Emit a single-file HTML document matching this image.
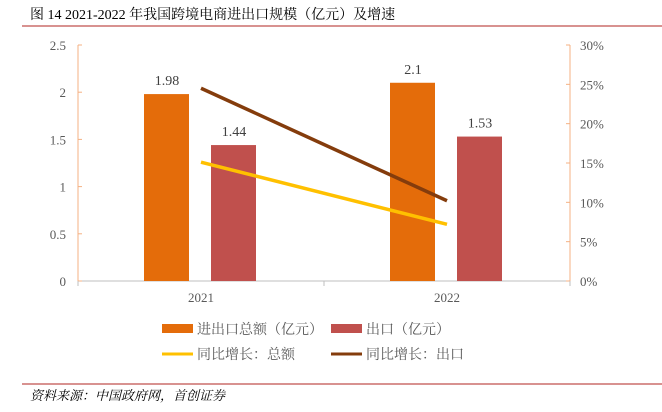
<!DOCTYPE html>
<html><head><meta charset="utf-8"><style>
body{margin:0;background:#fff;width:662px;height:407px;overflow:hidden;font-family:"Liberation Serif","Noto Serif CJK SC",serif}
text{font-family:"Liberation Serif","Noto Serif CJK SC",serif}
</style></head><body>
<svg width="662" height="407" xmlns="http://www.w3.org/2000/svg">
<text x="30" y="19" font-size="14" fill="#000">图  14 2021-2022 年我国跨境电商进出口规模（亿元）及增速</text>
<line x1="22" y1="26" x2="662" y2="26" stroke="#c0504d" stroke-width="1.2"/>
<g id="plot"></g>
<g font-family="Liberation Sans, Noto Sans CJK SC, sans-serif" font-size="14" fill="#595959">
<rect x="162" y="324" width="31" height="9" fill="#e46c0a"/>
<text x="197" y="334" fill="#595959" font-family="Noto Sans CJK SC, sans-serif">进出口总额（亿元）</text>
<rect x="331" y="324" width="31" height="9" fill="#c0504d"/>
<text x="366" y="334" fill="#595959" font-family="Noto Sans CJK SC, sans-serif">出口（亿元）</text>
<line x1="162" y1="354" x2="193" y2="354" stroke="#ffc000" stroke-width="3"/>
<text x="197" y="359" fill="#595959" font-family="Noto Sans CJK SC, sans-serif">同比增长：总额</text>
<line x1="331" y1="354" x2="362" y2="354" stroke="#843c0c" stroke-width="3"/>
<text x="366" y="359" fill="#595959" font-family="Noto Sans CJK SC, sans-serif">同比增长：出口</text>
</g>
<line x1="22" y1="384" x2="662" y2="384" stroke="#c0504d" stroke-width="1.2"/>
<text x="30" y="400" font-size="13" font-style="italic" fill="#000" font-family="Noto Serif CJK SC, serif">资料来源：中国政府网，首创证券</text>
</svg>
<script>
const categories=["2021","2022"];
const totalValues=[1.98,2.1];
const exportValues=[1.44,1.53];
const totalGrowth=[15.1,7.2];
const exportGrowth=[24.5,10.2];
const leftTicks=["0","0.5","1","1.5","2","2.5"];
const rightTicks=["0%","5%","10%","15%","20%","25%","30%"];
const NS="http://www.w3.org/2000/svg";
const g=document.getElementById('plot');
const X0=78,X1=570,Y0=281,Y1=45;
const yL=v=>Y0-(v/2.5)*(Y0-Y1);
const yR=v=>Y0-(v/30)*(Y0-Y1);
const band=(X1-X0)/categories.length;
const xc=i=>X0+band*(i+0.5);
function mk(t,a){const e=document.createElementNS(NS,t);for(const k in a)e.setAttribute(k,a[k]);g.appendChild(e);return e;}
let e;
e=mk('line',{x1:X0,y1:Y0,x2:X1,y2:Y0,stroke:'#bfbfbf','stroke-width':1});


e=mk('line',{x1:X0,y1:Y1,x2:X0,y2:Y0,stroke:'#f4b183','stroke-width':1});


e=mk('line',{x1:X1,y1:Y1,x2:X1,y2:Y0,stroke:'#f4b183','stroke-width':1});


leftTicks.forEach((t,i)=>{const v=parseFloat(t);const y=yL(v);
 mk('line',{x1:X0,y1:y,x2:X0+4,y2:y,stroke:'#f4b183'});
 e=mk('text',{x:66,y:y+5,'text-anchor':'end','font-size':13,fill:'#595959'});e.textContent=t;
 
 });
rightTicks.forEach((t,i)=>{const v=parseFloat(t);const y=yR(v);
 mk('line',{x1:X1-4,y1:y,x2:X1,y2:y,stroke:'#f4b183'});
 e=mk('text',{x:580,y:y+5,'font-size':13,fill:'#595959'});e.textContent=t;
 
 });
[X0,X0+band,X1].forEach(x=>mk('line',{x1:x,y1:Y0,x2:x,y2:Y0+5,stroke:'#bfbfbf'}));
categories.forEach((c,i)=>{const cx=xc(i);
 e=mk('rect',{x:cx-57,y:yL(totalValues[i]),width:45,height:Y0-yL(totalValues[i]),fill:'#e46c0a'});
 
 
 e=mk('rect',{x:cx+10,y:yL(exportValues[i]),width:45,height:Y0-yL(exportValues[i]),fill:'#c0504d'});
 
 
 e=mk('text',{x:cx-34,y:yL(totalValues[i])-9,'text-anchor':'middle','font-size':14,fill:'#404040'});e.textContent=totalValues[i];
 
 
 e=mk('text',{x:cx+33,y:yL(exportValues[i])-9,'text-anchor':'middle','font-size':14,fill:'#404040'});e.textContent=exportValues[i];
 
 
 e=mk('text',{x:cx,y:302,'text-anchor':'middle','font-size':13,fill:'#595959'});e.textContent=c;
 
 
});
function line(vals,col,name){const pts=vals.map((v,i)=>xc(i)+','+yR(v)).join(' ');
 const l=mk('polyline',{points:pts,fill:'none',stroke:col,'stroke-width':3.5});
 
 }
line(totalGrowth,'#ffc000','line-total-growth');
line(exportGrowth,'#843c0c','line-export-growth');
</script>
</body></html>
